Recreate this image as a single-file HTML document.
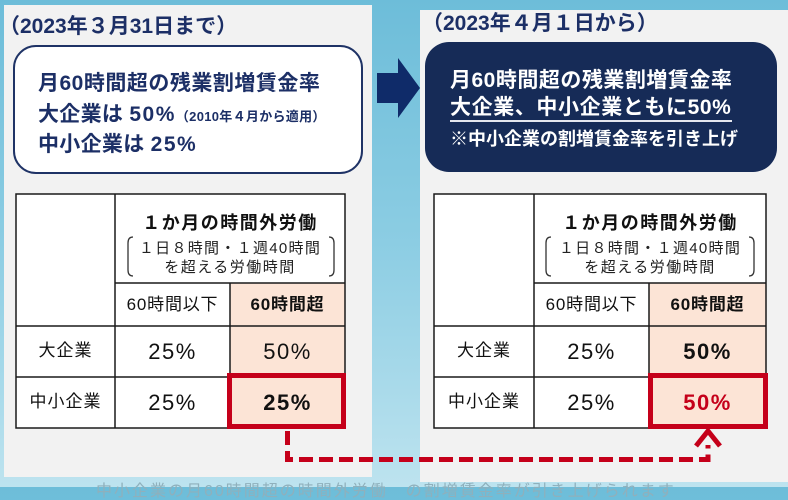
<!DOCTYPE html>
<html><head><meta charset="utf-8">
<style>
html,body{margin:0;padding:0;}
body{width:788px;height:487px;overflow:hidden;position:relative;
background:linear-gradient(180deg,#6dbdd9 0%,#8ccde3 50%,#bde3ef 100%);
font-family:"Liberation Sans","Noto Sans CJK JP",sans-serif;}
svg{position:absolute;left:0;top:0;}
.t{position:absolute;white-space:nowrap;}
.c{text-align:center;}
.nv{color:#1c2f66;font-weight:bold;}
.wh{color:#ffffff;font-weight:bold;}
.k{color:#111;}
</style></head><body>
<svg width="788" height="487" viewBox="0 0 788 487">
  <rect x="4" y="5" width="368" height="472" fill="#f2f2f2"/>
  <rect x="420" y="10" width="368" height="472" fill="#f2f2f2"/>
  <rect x="14" y="46" width="348" height="127" rx="22" ry="22" fill="#ffffff" stroke="#1f3366" stroke-width="2"/>
  <rect x="425" y="42" width="352" height="130" rx="24" ry="24" fill="#162b57"/>
  <polygon points="377,73 398,73 398,58 420,88 398,118 398,103 377,103" fill="#0f2b69"/>

  <!-- left table -->
  <rect x="16" y="194" width="329" height="234" fill="#ffffff"/>
  <rect x="230" y="283" width="115" height="145" fill="#fce4d6"/>
  <g stroke="#1a1a1a" stroke-width="1.5" fill="none">
    <rect x="16" y="194" width="329" height="234"/>
    <line x1="115" y1="194" x2="115" y2="428"/>
    <line x1="230" y1="283" x2="230" y2="428"/>
    <line x1="115" y1="283" x2="345" y2="283"/>
    <line x1="16" y1="326" x2="345" y2="326"/>
    <line x1="16" y1="377" x2="345" y2="377"/>
  </g>
  <g stroke="#333" stroke-width="1.3" fill="none">
    <path d="M133 237 Q128 237 128 243 L128 270 Q128 276 133 276"/>
    <path d="M329 237 Q334 237 334 243 L334 270 Q334 276 329 276"/>
  </g>
  <rect x="229.5" y="375.5" width="114" height="51" fill="none" stroke="#c5001a" stroke-width="5"/>

  <!-- right table -->
  <rect x="434" y="194" width="332" height="234" fill="#ffffff"/>
  <rect x="649" y="283" width="117" height="145" fill="#fce4d6"/>
  <g stroke="#1a1a1a" stroke-width="1.5" fill="none">
    <rect x="434" y="194" width="332" height="234"/>
    <line x1="534" y1="194" x2="534" y2="428"/>
    <line x1="649" y1="283" x2="649" y2="428"/>
    <line x1="534" y1="283" x2="766" y2="283"/>
    <line x1="434" y1="326" x2="766" y2="326"/>
    <line x1="434" y1="377" x2="766" y2="377"/>
  </g>
  <g stroke="#333" stroke-width="1.3" fill="none">
    <path d="M551 237 Q546 237 546 243 L546 270 Q546 276 551 276"/>
    <path d="M749 237 Q754 237 754 243 L754 270 Q754 276 749 276"/>
  </g>
  <rect x="650.5" y="375.5" width="115" height="51" fill="none" stroke="#c5001a" stroke-width="5"/>

  <!-- dashed connector -->
  <path d="M287.5 431 L287.5 459.5 L708 459.5 L708 445" fill="none" stroke="#c5001a" stroke-width="5" stroke-dasharray="14 6"/>
  <polyline points="696,446 708,431 720,446" fill="none" stroke="#c5001a" stroke-width="5" stroke-linejoin="miter"/>
</svg>

<!-- titles -->
<div class="t nv" style="left:-1px;top:16px;font-size:21px;line-height:22px;">（2023年３月31日まで）</div>
<div class="t nv" style="left:422px;top:13px;font-size:21px;line-height:22px;">（2023年４月１日から）</div>

<!-- left box text -->
<div class="t nv" style="left:38px;top:70px;font-size:21px;line-height:28px;letter-spacing:0.5px;">月60時間超の残業割増賃金率</div>
<div class="t nv" style="left:38px;top:101px;font-size:21px;line-height:28px;letter-spacing:0.3px;">大企業は <span style="letter-spacing:1.5px;">50%</span><span style="font-size:13px;letter-spacing:0.3px;">（2010年４月から適用）</span></div>
<div class="t nv" style="left:38px;top:131px;font-size:21px;line-height:28px;letter-spacing:0.3px;">中小企業は <span style="letter-spacing:1.5px;">25%</span></div>

<!-- right box text -->
<div class="t wh" style="left:450px;top:67px;font-size:21px;line-height:28px;letter-spacing:0.5px;">月60時間超の残業割増賃金率</div>
<div class="t wh" style="left:450px;top:94px;font-size:21px;line-height:28px;letter-spacing:0.6px;">大企業、中小企業ともに50%</div>
<div style="position:absolute;left:450px;top:120px;width:282px;height:2px;background:#e4e6ee;"></div>
<div class="t wh" style="left:450px;top:126px;font-size:18px;line-height:26px;">※中小企業の割増賃金率を引き上げ</div>

<!-- left table text -->
<div class="t c k" style="left:115px;width:230px;top:211px;font-size:18px;line-height:24px;font-weight:bold;letter-spacing:1.5px;">１か月の時間外労働</div>
<div class="t c" style="left:115px;width:230px;top:239px;font-size:15px;line-height:20px;color:#222;letter-spacing:1.3px;">１日８時間・１週40時間</div>
<div class="t c" style="left:115px;width:230px;top:258px;font-size:15px;line-height:20px;color:#222;letter-spacing:1.5px;">を超える労働時間</div>
<div class="t c k" style="left:115px;width:115px;top:293px;font-size:17px;line-height:24px;letter-spacing:0.8px;">60時間以下</div>
<div class="t c k" style="left:230px;width:115px;top:293px;font-size:17px;line-height:24px;font-weight:bold;letter-spacing:0.8px;">60時間超</div>
<div class="t c k" style="left:16px;width:99px;top:339px;font-size:17px;line-height:24px;letter-spacing:1px;">大企業</div>
<div class="t c k" style="left:115px;width:115px;top:338px;font-size:22px;line-height:28px;letter-spacing:1.5px;">25%</div>
<div class="t c k" style="left:230px;width:115px;top:338px;font-size:22px;line-height:28px;letter-spacing:1.5px;">50%</div>
<div class="t c k" style="left:16px;width:99px;top:390px;font-size:17px;line-height:24px;letter-spacing:1px;">中小企業</div>
<div class="t c k" style="left:115px;width:115px;top:389px;font-size:22px;line-height:28px;letter-spacing:1.5px;">25%</div>
<div class="t c k" style="left:230px;width:115px;top:389px;font-size:22px;line-height:28px;font-weight:bold;letter-spacing:1.5px;">25%</div>

<!-- right table text -->
<div class="t c k" style="left:534px;width:232px;top:211px;font-size:18px;line-height:24px;font-weight:bold;letter-spacing:1.5px;">１か月の時間外労働</div>
<div class="t c" style="left:534px;width:232px;top:239px;font-size:15px;line-height:20px;color:#222;letter-spacing:1.3px;">１日８時間・１週40時間</div>
<div class="t c" style="left:534px;width:232px;top:258px;font-size:15px;line-height:20px;color:#222;letter-spacing:1.5px;">を超える労働時間</div>
<div class="t c k" style="left:534px;width:115px;top:293px;font-size:17px;line-height:24px;letter-spacing:0.8px;">60時間以下</div>
<div class="t c k" style="left:649px;width:117px;top:293px;font-size:17px;line-height:24px;font-weight:bold;letter-spacing:0.8px;">60時間超</div>
<div class="t c k" style="left:434px;width:100px;top:339px;font-size:17px;line-height:24px;letter-spacing:1px;">大企業</div>
<div class="t c k" style="left:534px;width:115px;top:338px;font-size:22px;line-height:28px;letter-spacing:1.5px;">25%</div>
<div class="t c k" style="left:649px;width:117px;top:338px;font-size:22px;line-height:28px;font-weight:bold;letter-spacing:1.5px;">50%</div>
<div class="t c k" style="left:434px;width:100px;top:390px;font-size:17px;line-height:24px;letter-spacing:1px;">中小企業</div>
<div class="t c k" style="left:534px;width:115px;top:389px;font-size:22px;line-height:28px;letter-spacing:1.5px;">25%</div>
<div class="t c" style="left:649px;width:117px;top:389px;font-size:22px;line-height:28px;font-weight:bold;letter-spacing:1.5px;color:#c5001a;">50%</div>

<!-- faint cut-off footer text -->
<div class="t" style="left:96px;top:484px;font-size:16px;line-height:16px;color:#8fb0bc;letter-spacing:2px;">中小企業の月60時間超の時間外労働　の割増賃金率が引き上げられます</div>
</body></html>
